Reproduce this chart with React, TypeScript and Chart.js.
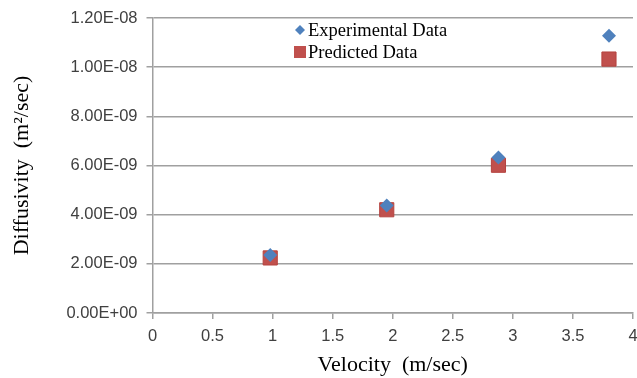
import React, { useEffect, useRef } from "react";
import { Chart, registerables } from "chart.js";

Chart.register(...registerables);

const experimentalX = [0.98, 1.95, 2.88, 3.8];
const experimentalY = [2.36e-9, 4.37e-9, 6.33e-9, 1.128e-8];
const predictedX = [0.98, 1.95, 2.88, 3.8];
const predictedY = [2.24e-9, 4.2e-9, 6.01e-9, 1.033e-8];
const seriesLabels = ["Experimental Data", "Predicted Data"];
const xTitle = "Velocity  (m/sec)";
const yTitle = "Diffusivity  (m\u00B2/sec)";

const BLUE = "#4f81bd";
const RED = "#c0504d";
const GRID = "#a0a0a0";

function fmtExp(v: number): string {
  const [m, e] = v.toExponential(2).split("e");
  const sign = e.startsWith("-") ? "-" : "+";
  const digits = e.replace(/^[+-]/, "").padStart(2, "0");
  return `${m}E${sign}${digits}`;
}

const legendPlugin = {
  id: "insideLegend",
  afterDraw(chart: any) {
    const ctx = chart.ctx;
    ctx.save();
    ctx.font = "18.5px 'Liberation Serif'";
    ctx.textBaseline = "middle";
    const x0 = 300;
    const y1 = 30;
    const y2 = 52;
    ctx.fillStyle = BLUE;
    ctx.beginPath();
    ctx.moveTo(x0, y1 - 5);
    ctx.lineTo(x0 + 5, y1);
    ctx.lineTo(x0, y1 + 5);
    ctx.lineTo(x0 - 5, y1);
    ctx.closePath();
    ctx.fill();
    ctx.fillStyle = RED;
    ctx.fillRect(x0 - 6, y2 - 6, 12, 12);
    ctx.fillStyle = "#000";
    ctx.fillText(chart.data.datasets[0].label, 308, y1 + 1);
    ctx.fillText(chart.data.datasets[1].label, 308, y2 + 1);
    ctx.restore();
  },
};

export default function App() {
  const ref = useRef<HTMLCanvasElement | null>(null);
  useEffect(() => {
    document.body.style.margin = "0";
    if (!ref.current) return;
    const chart = new Chart(ref.current, {
      type: "scatter",
      data: {
        datasets: [
          {
            label: seriesLabels[0],
            data: experimentalX.map((x, i) => ({ x, y: experimentalY[i] })),
            pointStyle: "rectRot",
            pointRadius: 7,
            backgroundColor: BLUE,
            borderColor: BLUE,
            borderWidth: 0,
          },
          {
            label: seriesLabels[1],
            data: predictedX.map((x, i) => ({ x, y: predictedY[i] })),
            pointStyle: "rect",
            pointRadius: 10,
            backgroundColor: RED,
            borderColor: "#b5433f",
            borderWidth: 1,
          },
        ],
      },
      options: {
        animation: false,
        responsive: false,
        maintainAspectRatio: false,
        layout: { autoPadding: false, padding: { top: 18, right: 4, bottom: 0, left: 0 } },
        plugins: {
          legend: { display: false },
          tooltip: { enabled: false },
        },
        scales: {
          x: {
            type: "linear",
            min: 0,
            max: 4,
            ticks: {
              stepSize: 0.5,
              padding: 8,
              color: "#404040",
              font: { family: "'Liberation Sans'", size: 16.5 },
              callback: (v: any) => String(v),
            },
            grid: {
              drawOnChartArea: false,
              drawTicks: true,
              tickLength: 6,
              color: GRID,
              lineWidth: 1.5,
            },
            border: { color: GRID, width: 1.5 },
            title: {
              display: true,
              text: xTitle,
              font: { family: "'Liberation Serif'", size: 22 },
              color: "#000",
              padding: { top: 0, bottom: 0 },
            },
            afterFit: (s: any) => {
              s.height = 65;
              s.paddingLeft = 0;
              s.paddingRight = 0;
            },
          },
          y: {
            type: "linear",
            min: 0,
            max: 1.2e-8,
            ticks: {
              stepSize: 2e-9,
              padding: 9,
              color: "#404040",
              font: { family: "'Liberation Sans'", size: 16.5 },
              callback: (v: any) => fmtExp(Number(v)),
            },
            grid: {
              drawOnChartArea: true,
              drawTicks: true,
              tickLength: 6,
              color: GRID,
              lineWidth: 1.5,
            },
            border: { color: GRID, width: 1.5 },
            title: {
              display: true,
              text: yTitle,
              font: { family: "'Liberation Serif'", size: 22 },
              color: "#000",
              padding: { top: 9, bottom: 0 },
            },
            afterFit: (s: any) => {
              s.width = 152.5;
              s.paddingTop = 0;
              s.paddingBottom = 0;
            },
          },
        },
      },
      plugins: [legendPlugin],
    });
    return () => chart.destroy();
  }, []);
  return (
    <div style={{ width: 637, height: 378, background: "#fff" }}>
      <canvas ref={ref} width={637} height={378} />
    </div>
  );
}
